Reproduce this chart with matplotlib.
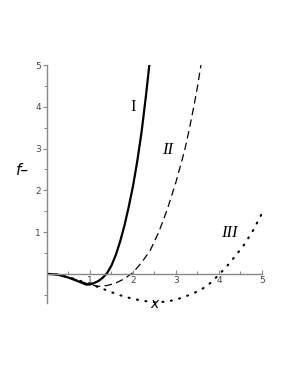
import matplotlib
matplotlib.use("Agg")
import matplotlib.pyplot as plt

# curve I (solid)
x1 = [0, 0.25, 0.5, 0.75, 0.92, 1.0, 1.1, 1.2, 1.3, 1.4, 1.5, 1.6, 1.7, 1.8, 1.9, 2.0, 2.1, 2.2, 2.3, 2.38]
y1 = [0, -0.02, -0.09, -0.19, -0.26, -0.255, -0.22, -0.17, -0.09, 0.02, 0.2, 0.45, 0.77, 1.15, 1.6, 2.1, 2.7, 3.4, 4.25, 5.0]

# curve II (dashed)
x2 = [0, 0.25, 0.5, 0.75, 1.0, 1.2, 1.4, 1.6, 1.8, 2.0, 2.2, 2.4, 2.6, 2.8, 3.0, 3.2, 3.3, 3.4, 3.5, 3.58]
y2 = [0, -0.02, -0.08, -0.17, -0.26, -0.3, -0.28, -0.22, -0.12, 0.03, 0.27, 0.56, 1.0, 1.55, 2.2, 2.95, 3.42, 3.93, 4.48, 5.0]

# curve III (dotted)
x3 = [0, 0.25, 0.5, 0.75, 1.0, 1.25, 1.5, 1.75, 2.0, 2.25, 2.5, 2.75, 3.0, 3.2, 3.4, 3.6, 3.8, 4.0, 4.2, 4.4, 4.6, 4.8, 5.0]
y3 = [0, -0.02, -0.08, -0.16, -0.25, -0.34, -0.44, -0.53, -0.6, -0.65, -0.68, -0.67, -0.62, -0.55, -0.47, -0.37, -0.22, -0.02, 0.2, 0.45, 0.72, 1.05, 1.45]

xticks = [1, 2, 3, 4, 5]
yticks = [1, 2, 3, 4, 5]

fig = plt.figure(figsize=(2.86, 3.7), dpi=100)
ax = fig.add_axes([0.1643, 0.181, 0.7517, 0.643])

ax.plot(x1, y1, color='black', lw=1.6)
ax.plot(x2, y2, color='black', lw=0.9, dashes=(6, 3.5))
ax.plot(x3, y3, color='black', lw=1.5, linestyle=(0, (0.5, 3.6)), dash_capstyle='round')

ax.set_xlim(0, 5)
ax.set_ylim(-0.7, 5)

for s in ['top', 'right']:
    ax.spines[s].set_visible(False)
ax.spines['left'].set_position(('data', 0))
ax.spines['bottom'].set_position(('data', 0))
for s in ['left', 'bottom']:
    ax.spines[s].set_color('#888888')
    ax.spines[s].set_linewidth(1.0)

ax.set_xticks(xticks)
ax.set_yticks(yticks)
ax.set_xticks([0.5, 1.5, 2.5, 3.5, 4.5], minor=True)
ax.set_yticks([-0.5, 0.5, 1.5, 2.5, 3.5, 4.5], minor=True)
ax.tick_params(axis='both', which='major', labelsize=6.5, colors='#888888',
               labelcolor='#444444', length=3, width=0.8, pad=1.5)
ax.tick_params(axis='both', which='minor', colors='#888888', length=2, width=0.8)
ax.tick_params(axis='x', which='both', direction='in')

ax.text(2.5, -0.72, 'x', ha='center', va='center', fontsize=10, style='italic')
fig.text(0.077, 0.54, 'f–', ha='center', va='center', fontsize=11, style='italic')

serif = ['Liberation Serif', 'DejaVu Serif']
ax.text(2.0, 4.0, 'I', fontsize=12, family=serif, ha='center', va='center')
ax.text(2.8, 2.97, 'II', fontsize=12, family=serif, style='italic', ha='center', va='center')
ax.text(4.25, 0.97, 'III', fontsize=12, family=serif, style='italic', ha='center', va='center')

fig.savefig('out.png', dpi=100)
